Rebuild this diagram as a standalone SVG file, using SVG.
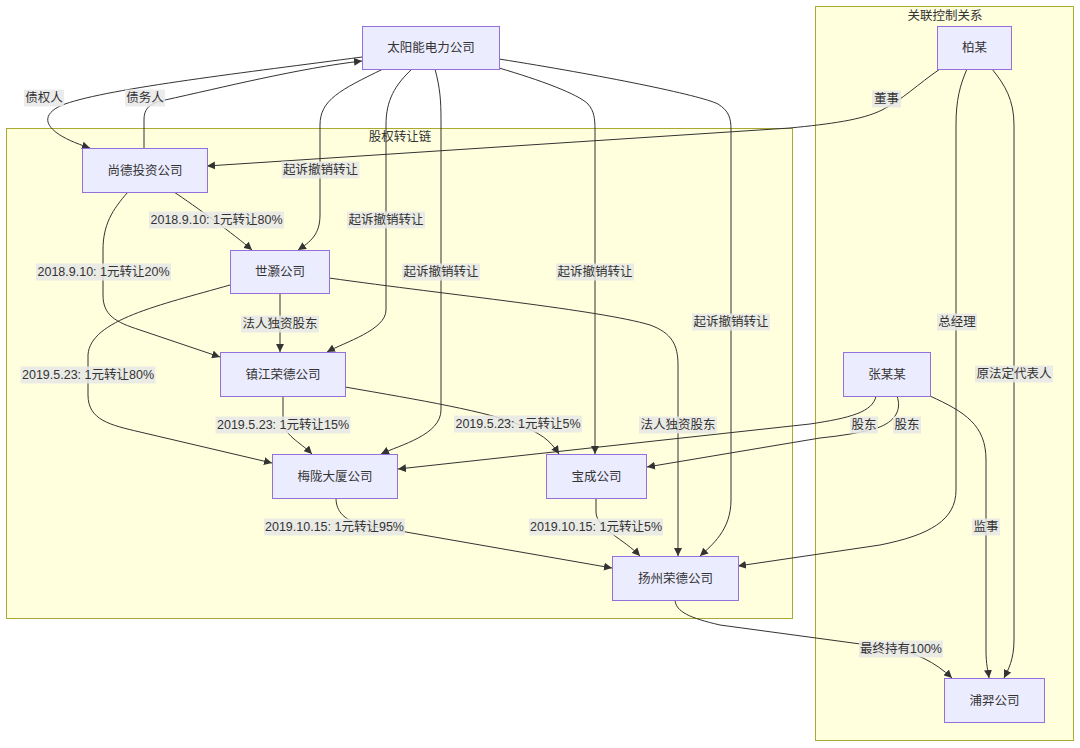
<svg xmlns="http://www.w3.org/2000/svg" width="1080" height="748" viewBox="0 0 1080 748">
<style>
text{font-family:"Liberation Sans","Noto Sans CJK SC",sans-serif;font-size:12.5px;fill:#333;text-anchor:middle;dominant-baseline:central}
.cluster rect{fill:#ffffde;stroke:#aaaa33;stroke-width:1}
.node rect{fill:#ececff;stroke:#9370db;stroke-width:1}
.edge{fill:none;stroke:#333;stroke-width:1}
.arr{marker-end:url(#arrow)}
.lbl rect{fill:#e8e8e8;fill-opacity:0.85}
</style>
<defs>
<marker id="arrow" viewBox="0 0 10 10" refX="10" refY="5" markerWidth="8" markerHeight="8" markerUnits="userSpaceOnUse" orient="auto">
<path d="M0,0 L10,5 L0,10 z" fill="#333"/>
</marker>
</defs>
<rect width="1080" height="748" fill="#ffffff"/>
<g id="clusters">
<g id="cluster-chain" class="cluster"><rect x="6.5" y="128.5" width="786" height="490"/><text x="400" y="137">股权转让链</text></g>
<g id="cluster-control" class="cluster"><rect x="815.5" y="6.5" width="258" height="734"/><text x="945" y="16">关联控制关系</text></g>
</g>
<g id="connectors">
<path class="edge arr" d="M362,57 C250,72 110,88 65,104 C38,114 40,132 90,148"/>
<path class="edge arr" d="M144,148 L144,120 C144,108 150,103 165,100 C220,88 300,68 362,61"/>
<path class="edge arr" d="M940,69 C918,84 902,100 882,110 C862,120 830,124 790,128 L207,166"/>
<path class="edge arr" d="M383,69 C340,90 320,100 320,125 L320,215 C320,235 310,242 298,250"/>
<path class="edge arr" d="M412,69 C395,85 386,100 386,125 L386,310 C386,330 345,342 327,352"/>
<path class="edge arr" d="M435,69 C440,88 441,100 441,120 L441,410 C441,435 400,445 381,454"/>
<path class="edge arr" d="M499,68 C540,80 578,94 588,104 C594,111 595,118 595,130 L595,454"/>
<path class="edge arr" d="M499,59 C600,75 700,95 718,104 C729,111 731,118 731,130 L731,500 C731,530 712,545 700,556"/>
<path class="edge arr" d="M174,192 C195,206 235,235 252,250"/>
<path class="edge arr" d="M128,192 C112,210 103,225 103,250 L103,295 C103,315 115,322 140,330 L220,357"/>
<path class="edge arr" d="M280,293 L280,352"/>
<path class="edge arr" d="M230,285 C160,305 90,320 88,355 L88,395 C88,420 110,425 140,432 L272,463"/>
<path class="edge arr" d="M329,278 C450,295 600,310 650,325 C672,333 678,345 678,365 L678,556"/>
<path class="edge arr" d="M283,396 L283,420 C283,435 300,442 312,454"/>
<path class="edge arr" d="M345,387 C420,400 490,412 520,425 C540,433 550,440 559,454"/>
<path class="edge arr" d="M876,396 C873,412 850,418 810,424 L398,469"/>
<path class="edge arr" d="M897,396 C902,410 895,422 877,428 C860,433 840,436 820,438 L647,467"/>
<path class="edge arr" d="M967,69 C960,85 956,100 956,125 L956,490 C956,520 930,535 880,545 L738,566"/>
<path class="edge arr" d="M992,69 C1005,85 1014,100 1014,125 L1014,640 C1014,660 1008,670 1004,678"/>
<path class="edge arr" d="M930,396 C965,412 986,425 986,460 L986,650 C986,665 988,670 989,678"/>
<path class="edge arr" d="M675,600 C676,612 690,618 720,625 L890,648 C915,652 935,662 952,678"/>
<path class="edge arr" d="M336,498 C336,512 345,520 360,524 L612,568"/>
<path class="edge arr" d="M596,498 L596,512 C596,528 625,540 640,556"/>
<g class="lbl">
<rect x="24" y="89.5" width="40" height="17"/><text x="44" y="98">债权人</text>
<rect x="125" y="89.5" width="40" height="17"/><text x="145" y="98">债务人</text>
<rect x="872" y="90.5" width="29" height="17"/><text x="886.5" y="99">董事</text>
<rect x="281.5" y="161.5" width="78" height="17"/><text x="320.5" y="170">起诉撤销转让</text>
<rect x="347" y="211.5" width="78" height="17"/><text x="386" y="220">起诉撤销转让</text>
<rect x="402" y="263.5" width="78" height="17"/><text x="441" y="272">起诉撤销转让</text>
<rect x="556" y="263.5" width="78" height="17"/><text x="595" y="272">起诉撤销转让</text>
<rect x="692" y="313.5" width="78" height="17"/><text x="731" y="322">起诉撤销转让</text>
<rect x="149" y="211.5" width="135" height="17"/><text x="216.5" y="220">2018.9.10: 1元转让80%</text>
<rect x="36" y="263.5" width="135" height="17"/><text x="103.5" y="272">2018.9.10: 1元转让20%</text>
<rect x="241" y="315.5" width="78" height="17"/><text x="280" y="324">法人独资股东</text>
<rect x="20.5" y="366.5" width="135" height="17"/><text x="88" y="375">2019.5.23: 1元转让80%</text>
<rect x="639" y="416.5" width="78" height="17"/><text x="678" y="425">法人独资股东</text>
<rect x="215.5" y="416.5" width="135" height="17"/><text x="283" y="425">2019.5.23: 1元转让15%</text>
<rect x="454" y="415.5" width="128" height="17"/><text x="518" y="424">2019.5.23: 1元转让5%</text>
<rect x="850" y="416.5" width="28" height="17"/><text x="864" y="425">股东</text>
<rect x="893" y="416.5" width="28" height="17"/><text x="907" y="425">股东</text>
<rect x="937" y="313.5" width="40" height="17"/><text x="957" y="322">总经理</text>
<rect x="975" y="365.5" width="78" height="17"/><text x="1014" y="374">原法定代表人</text>
<rect x="972" y="518.5" width="28" height="17"/><text x="986" y="527">监事</text>
<rect x="859" y="640.5" width="84" height="17"/><text x="901" y="649">最终持有100%</text>
<rect x="264" y="518.5" width="141" height="17"/><text x="334.5" y="527">2019.10.15: 1元转让95%</text>
<rect x="529" y="518.5" width="134" height="17"/><text x="596" y="527">2019.10.15: 1元转让5%</text>
</g>
</g>
<g id="n-taiyang" class="node"><rect x="362.5" y="26.5" width="137" height="43"/><text x="431" y="48">太阳能电力公司</text></g>
<g id="n-shangde" class="node"><rect x="82.5" y="148.5" width="125" height="44"/><text x="145" y="170.5">尚德投资公司</text></g>
<g id="n-shihao" class="node"><rect x="230.5" y="250.5" width="99" height="43"/><text x="280" y="272">世灏公司</text></g>
<g id="n-zhenjiang" class="node"><rect x="220.5" y="352.5" width="125" height="44"/><text x="283" y="374.5">镇江荣德公司</text></g>
<g id="n-meilong" class="node"><rect x="272.5" y="454.5" width="125" height="44"/><text x="335" y="476.5">梅陇大厦公司</text></g>
<g id="n-baocheng" class="node"><rect x="546.5" y="454.5" width="100" height="44"/><text x="596.5" y="476.5">宝成公司</text></g>
<g id="n-yangzhou" class="node"><rect x="612.5" y="556.5" width="126" height="44"/><text x="675.5" y="578.5">扬州荣德公司</text></g>
<g id="n-zhang" class="node"><rect x="843.5" y="352.5" width="87" height="44"/><text x="887" y="374.5">张某某</text></g>
<g id="n-bai" class="node"><rect x="937.5" y="26.5" width="74" height="43"/><text x="974.5" y="48">柏某</text></g>
<g id="n-puyi" class="node"><rect x="944.5" y="678.5" width="100" height="44"/><text x="994.5" y="700.5">浦羿公司</text></g>
</svg>
